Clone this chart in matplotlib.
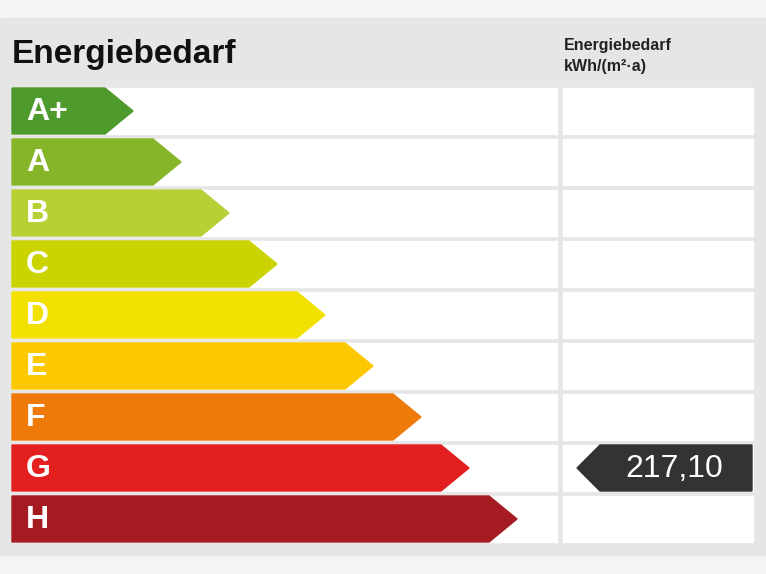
import matplotlib.pyplot as plt
from matplotlib.patches import Polygon, Rectangle

plt.rcParams['font.family'] = ['Liberation Sans', 'DejaVu Sans']

categories = ["A+", "A", "B", "C", "D", "E", "F", "G", "H"]
colors = ["#4f9a2c", "#86b52a", "#b8cf36", "#cbd300", "#f1e000", "#fcc800", "#ee7a0a", "#e3201f", "#a51b22"]
value_label = "217,10"
value_category = "G"
title = "Energiebedarf"
unit_header = "Energiebedarf\nkWh/(m²·a)"

W, H = 766, 574
fig = plt.figure(figsize=(W/100, H/100), dpi=100)
ax = fig.add_axes([0, 0, 1, 1])
ax.set_xlim(0, W); ax.set_ylim(H, 0); ax.axis("off")
fig.patch.set_facecolor("#f4f4f4")
ax.add_patch(Rectangle((0, 18), W, 537, color="#e6e6e6", zorder=0))

ax.text(12, 54, title, fontsize=24, fontweight="bold", va="center", ha="left", color="#111")
ax.text(564, 56, unit_header, fontsize=11.5, fontweight="bold", va="center", ha="left",
        color="#222", linespacing=1.5)

top, step, h = 88, 51, 46
for i, (cat, col) in enumerate(zip(categories, colors)):
    y = top + i*step
    ax.add_patch(Rectangle((12, y), 545, h, color="white", zorder=1))
    ax.add_patch(Rectangle((563, y), 190, h, color="white", zorder=1))
    body = 105 + 48*i
    ax.add_patch(Polygon([(12, y), (body, y), (body+28, y+h/2), (body, y+h), (12, y+h)],
                         closed=True, color=col, zorder=2))
    ax.text(26, y+h/2+1, cat, fontsize=23, fontweight="bold", color="white",
            va="center", ha="left", zorder=3)
    if cat == value_category:
        ax.add_patch(Polygon([(577, y+h/2), (600, y), (752, y), (752, y+h), (600, y+h)],
                             closed=True, color="#333333", zorder=2))
        ax.text(674, y+h/2+1, value_label, fontsize=23, color="white",
                va="center", ha="center", zorder=3)

fig.savefig("out.png", dpi=100)
